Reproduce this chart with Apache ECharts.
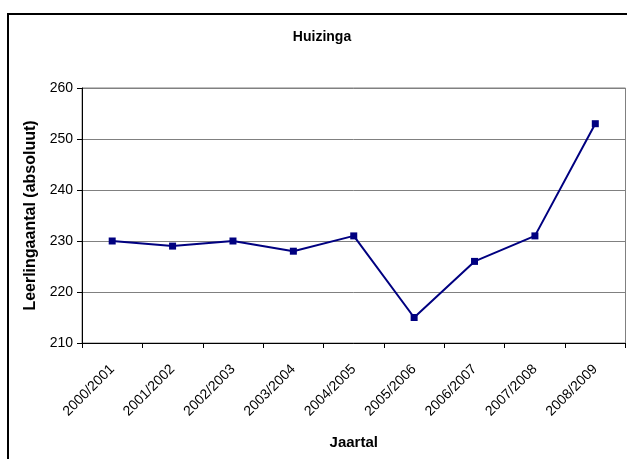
<!DOCTYPE html>
<html><head><meta charset="utf-8">
<script src="https://cdn.jsdelivr.net/npm/echarts@6/dist/echarts.min.js"></script>
<style>html,body{margin:0;padding:0;background:#fff;}#c{width:627px;height:459px;}</style>
</head><body><div id="c"></div>
<script>
const categories = ['2000/2001','2001/2002','2002/2003','2003/2004','2004/2005','2005/2006','2006/2007','2007/2008','2008/2009'];
const values = [230, 229, 230, 228, 231, 215, 226, 231, 253];
const yTicks = [210, 220, 230, 240, 250, 260];
const FONT = '"Liberation Sans", Arial, sans-serif';
const chart = echarts.init(document.getElementById('c'), null, {renderer:'canvas'});
chart.setOption({
  animation: false,
  backgroundColor: '#fff',
  title: {text: 'Huizinga', left: 317, top: 25, textAlign: 'center',
    textStyle: {fontFamily: FONT, fontSize: 14, fontWeight: 'bold', color: '#000'}},
  graphic: [
    {type: 'rect', shape: {x: 8, y: 14, width: 640, height: 470}, style: {fill: 'none', stroke: '#000', lineWidth: 2}, z: 100}
  ],
  grid: {left: 82, top: 88, right: 1.5, bottom: 116, show: true, borderColor: '#808080', borderWidth: 1},
  xAxis: {
    type: 'category', data: categories, boundaryGap: true,
    name: 'Jaartal', nameLocation: 'middle', nameGap: 92,
    nameTextStyle: {fontFamily: FONT, fontSize: 15, fontWeight: 'bold', color: '#000'},
    axisLine: {lineStyle: {color: '#000', width: 1}},
    axisTick: {show: true, alignWithLabel: false, length: 5, lineStyle: {color: '#000'}},
    axisLabel: {rotate: 45, fontFamily: FONT, fontSize: 14, color: '#000', margin: 24},
    splitLine: {show: false}
  },
  yAxis: {
    type: 'value', min: yTicks[0], max: yTicks[yTicks.length-1], interval: 10,
    name: 'Leerlingaantal (absoluut)', nameLocation: 'middle', nameGap: 40, nameRotate: 90,
    nameTextStyle: {fontFamily: FONT, fontSize: 16, fontWeight: 'bold', color: '#000'},
    axisLine: {show: true, lineStyle: {color: '#000', width: 1}},
    axisTick: {show: true, length: 5, lineStyle: {color: '#000'}},
    axisLabel: {fontFamily: FONT, fontSize: 14, color: '#000', margin: 9},
    splitLine: {show: true, lineStyle: {color: '#808080', width: 1}}
  },
  series: [{
    type: 'line', data: values,
    symbol: 'rect', symbolSize: 7,
    lineStyle: {color: '#000080', width: 2},
    itemStyle: {color: '#000080'}
  }]
});
</script></body></html>
